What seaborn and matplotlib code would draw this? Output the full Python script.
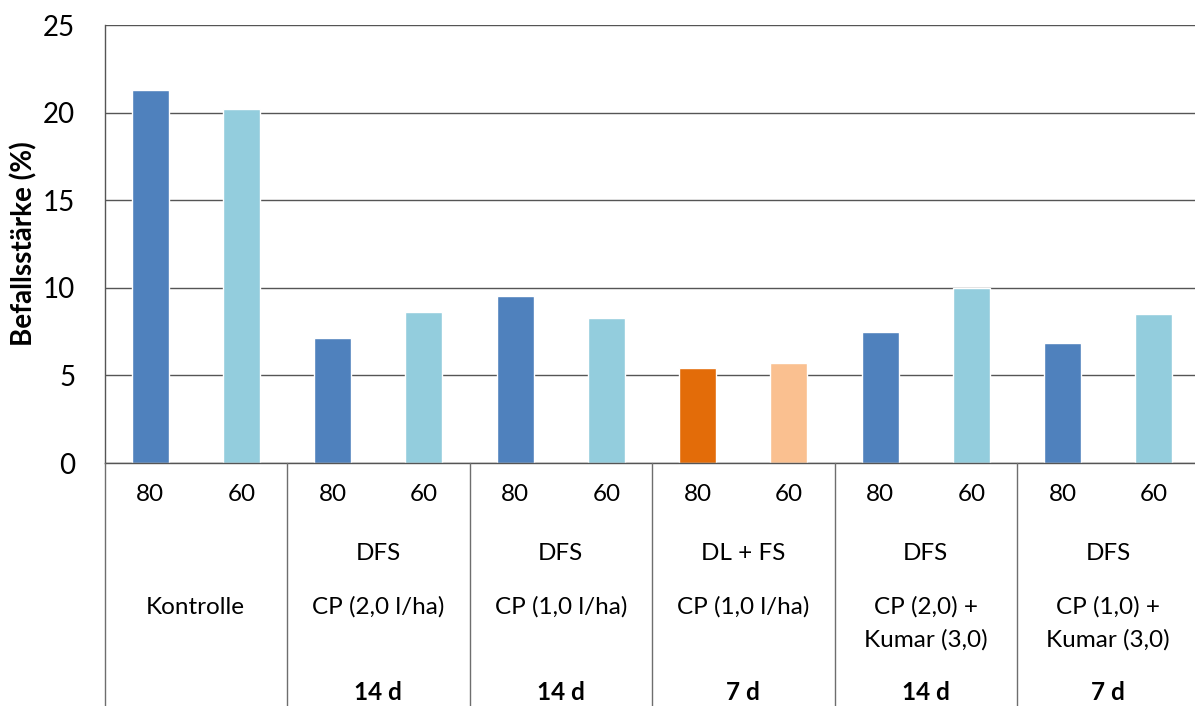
import numpy as np
import pandas as pd
import matplotlib.pyplot as plt
import matplotlib.transforms as mtransforms
from matplotlib.lines import Line2D
import seaborn as sns

# Daten
stufen = ["80", "60"]
verfahren = ["", "DFS", "DFS", "DL + FS", "DFS", "DFS"]
mittel = ["Kontrolle", "CP (2,0 l/ha)", "CP (1,0 l/ha)", "CP (1,0 l/ha)", "CP (2,0) +", "CP (1,0) +"]
zusatz = ["", "", "", "", "Kumar (3,0)", "Kumar (3,0)"]
intervall = ["", "14 d", "14 d", "7 d", "14 d", "7 d"]
werte_80 = [21.3, 7.15, 9.55, 5.4, 7.45, 6.85]
werte_60 = [20.2, 8.6, 8.25, 5.7, 10.0, 8.5]
farben = ["#4F81BD", "#93CDDD", "#4F81BD", "#93CDDD", "#4F81BD", "#93CDDD",
          "#E36C09", "#FAC090", "#4F81BD", "#93CDDD", "#4F81BD", "#93CDDD"]

rows = []
for i in range(len(mittel)):
    rows.append({"key": f"{i}-80", "stufe": "80", "wert": werte_80[i]})
    rows.append({"key": f"{i}-60", "stufe": "60", "wert": werte_60[i]})
df = pd.DataFrame(rows)

sns.set_style("white")
plt.rcParams['font.family'] = ['Lato', 'DejaVu Sans']
plt.rcParams['text.color'] = 'black'
plt.rcParams['xtick.color'] = 'black'
plt.rcParams['ytick.color'] = 'black'
plt.rcParams['axes.labelcolor'] = 'black'

W, H = 1195, 706
fs = 17.5
fig = plt.figure(figsize=(W / 100, H / 100), dpi=100)
ax = fig.add_axes([104.5 / W, 1 - 463 / H, 1095 / W, (463 - 25) / H])

sns.barplot(data=df, x="key", y="wert", hue="key", palette=farben,
            legend=False, width=0.405, ax=ax, saturation=1)

ax.set_xlim(-0.5, 11.5)
ax.set_ylim(0, 25)
ax.set_yticks([0, 5, 10, 15, 20, 25])
ax.yaxis.grid(True, color="#555555", linewidth=1)
ax.set_axisbelow(True)
for s in ["top", "right"]:
    ax.spines[s].set_visible(False)
ax.spines["left"].set_color("#555555")
ax.spines["bottom"].set_color("#555555")
ax.spines["left"].set_linewidth(1)
ax.spines["bottom"].set_linewidth(1)

ax.set_xticks(range(len(df)))
ax.set_xticklabels(df["stufe"], fontsize=fs)
ax.tick_params(axis="x", length=0, pad=15)
ax.tick_params(axis="y", length=7, width=1, color="#555555", labelsize=20, pad=14)
ax.set_xlabel("")
ax.set_ylabel("Befallsstärke (%)", fontsize=20, fontweight="bold", labelpad=4)

# Kategorien unter der Achse
trans = mtransforms.blended_transform_factory(ax.transData, fig.transFigure)
for i in range(len(mittel)):
    xc = 2 * i + 0.5
    ax.text(xc, 1 - 553 / H, verfahren[i], transform=trans, ha="center", va="center", fontsize=fs)
    ax.text(xc, 1 - 607 / H, mittel[i], transform=trans, ha="center", va="center", fontsize=fs)
    ax.text(xc, 1 - 640 / H, zusatz[i], transform=trans, ha="center", va="center", fontsize=fs)
    ax.text(xc, 1 - 692 / H, intervall[i], transform=trans, ha="center", va="center",
            fontsize=fs, fontweight="bold")

for i in range(len(mittel) + 1):
    xd = 2 * i - 0.5
    fig.add_artist(Line2D([xd, xd], [1 - 463 / H, 0], transform=trans,
                          color="#6e6e6e", linewidth=1, clip_on=False))

fig.savefig("out.png", dpi=100)
